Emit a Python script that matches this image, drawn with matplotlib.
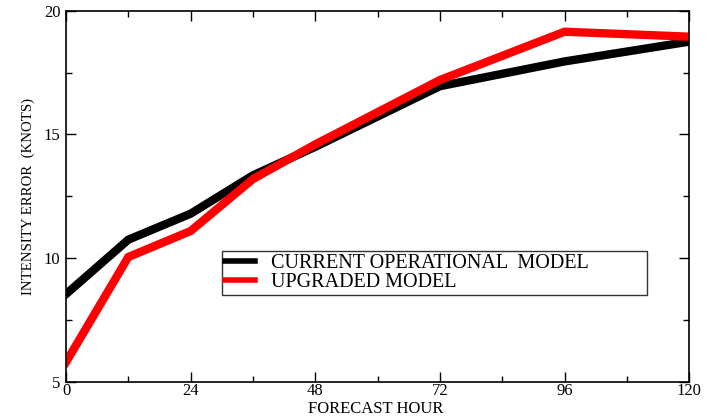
import matplotlib
matplotlib.use("Agg")
import matplotlib.pyplot as plt
from matplotlib.ticker import MultipleLocator

hours = [0, 12, 24, 36, 48, 72, 96, 120]
current = [8.55, 10.75, 11.8, 13.35, 14.5, 16.95, 17.95, 18.75]
upgraded = [5.8, 10.05, 11.1, 13.2, 14.6, 17.2, 19.15, 18.95]
labels = ["CURRENT OPERATIONAL  MODEL", "UPGRADED MODEL"]

plt.rcParams['font.family'] = ['Liberation Serif', 'DejaVu Serif']

fig = plt.figure(figsize=(7.09, 4.19), dpi=100)
ax = fig.add_axes([0.0931, 0.0883, 0.879, 0.8862])

ax.plot(hours, current, color='black', lw=6, label=labels[0], solid_joinstyle='miter')
ax.plot(hours, upgraded, color='#ff0000', lw=6, label=labels[1], solid_joinstyle='miter')

ax.set_xlim(0, 120)
ax.set_ylim(5, 20)
ax.xaxis.set_major_locator(MultipleLocator(24))
ax.xaxis.set_minor_locator(MultipleLocator(12))
ax.yaxis.set_major_locator(MultipleLocator(5))
ax.yaxis.set_minor_locator(MultipleLocator(2.5))
ax.tick_params(which='both', direction='in', top=True, right=True, width=1)
ax.tick_params(which='major', length=7.5, labelsize=12)
ax.tick_params(axis='x', which='major', pad=1)
ax.tick_params(axis='y', which='major', pad=4)
ax.tick_params(which='minor', length=4)
for s in ax.spines.values():
    s.set_linewidth(1.2)

ax.set_xlabel("FORECAST HOUR", fontsize=12)
ax.set_ylabel("INTENSITY ERROR  (KNOTS)", fontsize=10.7)
ax.xaxis.set_label_coords(0.497, -0.052)
ax.yaxis.set_label_coords(-0.05, 0.5)

leg = ax.legend(loc='lower left', bbox_to_anchor=(0.25, 0.234, 0.682, 0.124), mode='expand',
                fontsize=14.5, frameon=True, fancybox=False, edgecolor='black',
                handlelength=1.5, handletextpad=0.8, borderpad=0.15, labelspacing=0.0,
                borderaxespad=0)
leg.get_frame().set_linewidth(1.0)
for l in leg.get_lines():
    l.set_linewidth(4)

fig.savefig("out.png", dpi=100)
